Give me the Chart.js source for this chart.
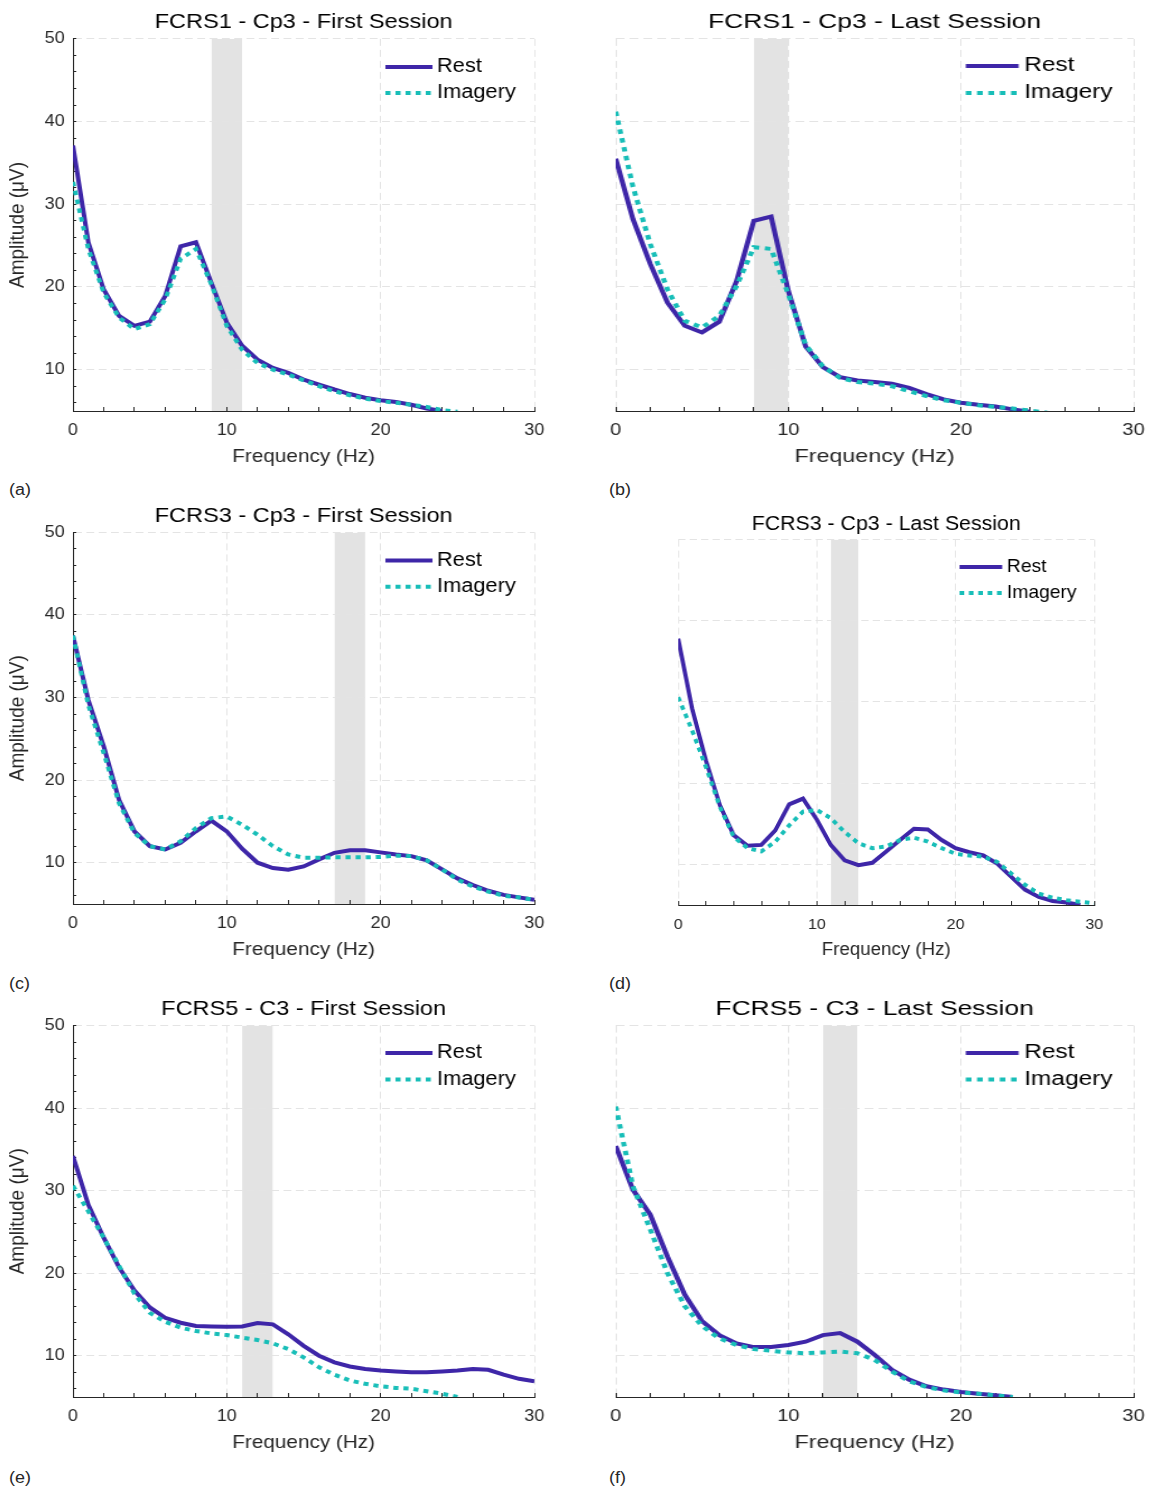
<!DOCTYPE html>
<html>
<head>
<meta charset="utf-8">
<script src="https://cdn.jsdelivr.net/npm/chart.js@4.4.1/dist/chart.umd.min.js"></script>
<style>
  html, body { margin: 0; padding: 0; background: #fff; }
  body { position: relative; width: 1149px; height: 1492px; overflow: hidden;
         font-family: 'Liberation Sans', Arial, Helvetica, sans-serif; }
  .panel { position: absolute; transform-origin: 0 0; }
  .tag { position: absolute; font-size: 16px; line-height: 16px; color: #262626;
         transform-origin: 0 0; transform: scaleX(1.12); }
</style>
</head>
<body>
<div class="tag" style="left:9px;top:482px">(a)</div>
<div class="tag" style="left:609px;top:482px">(b)</div>
<div class="tag" style="left:9px;top:976px">(c)</div>
<div class="tag" style="left:609px;top:976px">(d)</div>
<div class="tag" style="left:9px;top:1470px">(e)</div>
<div class="tag" style="left:609px;top:1470px">(f)</div>
<script>
// amplitude spectra, one value per 1 Hz bin starting at 0 Hz
const restA    = [37.1, 25.4, 19.7, 16.5, 15.3, 15.8, 18.9, 24.9, 25.4, 20.5, 15.7, 12.9, 11.2, 10.2, 9.6, 8.8, 8.2, 7.6, 7.05, 6.6, 6.3, 6.1, 5.75, 5.3, 5.0]
const imageryA = [32.7, 24.6, 19.3, 16.3, 14.9, 15.5, 18.5, 23.4, 24.6, 20.3, 15.3, 12.4, 10.8, 10.0, 9.4, 8.7, 8.0, 7.4, 6.9, 6.5, 6.2, 6.0, 5.75, 5.5, 5.1, 4.9]

const restB    = [35.5, 28.2, 22.8, 18.1, 15.3, 14.5, 15.8, 20.7, 28.0, 28.5, 19.5, 12.8, 10.3, 9.1, 8.7, 8.5, 8.3, 7.8, 7.05, 6.4, 6.0, 5.75, 5.55, 5.2, 4.9]
const imageryB = [41.2, 32.1, 25.2, 19.7, 15.9, 15.1, 16.5, 20.1, 24.8, 24.6, 19.1, 13.0, 10.4, 9.0, 8.5, 8.3, 8.0, 7.4, 6.8, 6.3, 6.0, 5.7, 5.5, 5.3, 5.05, 4.8]

const restC    = [37.5, 29.7, 24.1, 17.6, 13.8, 12.0, 11.6, 12.4, 13.8, 15.1, 13.8, 11.7, 10.0, 9.35, 9.15, 9.55, 10.4, 11.2, 11.5, 11.5, 11.25, 11.0, 10.8, 10.3, 9.2, 8.1, 7.3, 6.6, 6.1, 5.8, 5.5]
const imageryC = [37.5, 29.1, 23.3, 17.2, 13.6, 12.0, 11.6, 12.6, 14.2, 15.4, 15.6, 14.6, 13.4, 12.0, 11.0, 10.6, 10.6, 10.65, 10.65, 10.65, 10.7, 10.85, 10.8, 10.3, 9.2, 7.95, 7.1, 6.5, 6.0, 5.8, 5.5]

const restD    = [37.8, 29.2, 22.8, 17.3, 13.6, 12.3, 12.4, 14.2, 17.4, 18.1, 15.5, 12.4, 10.5, 9.9, 10.2, 11.6, 13.0, 14.4, 14.3, 13.0, 12.0, 11.5, 11.1, 10.1, 8.5, 6.9, 6.0, 5.5, 5.3, 5.0]
const imageryD = [30.6, 26.5, 22.0, 17.1, 13.4, 12.0, 11.6, 12.8, 14.8, 16.5, 16.7, 15.7, 14.0, 12.6, 12.0, 12.2, 13.0, 13.3, 12.8, 12.0, 11.3, 11.1, 10.95, 10.3, 8.9, 7.5, 6.4, 5.9, 5.6, 5.4, 5.2]

const restE    = [34.2, 28.3, 24.3, 20.7, 17.9, 15.85, 14.6, 14.0, 13.6, 13.55, 13.5, 13.55, 13.95, 13.8, 12.6, 11.2, 10.0, 9.2, 8.7, 8.4, 8.2, 8.1, 8.0, 8.0, 8.1, 8.2, 8.4, 8.3, 7.7, 7.2, 6.9]
const imageryE = [30.6, 27.5, 24.3, 20.9, 17.5, 15.2, 14.1, 13.4, 13.0, 12.7, 12.5, 12.2, 11.9, 11.5, 10.8, 9.8, 8.6, 7.7, 7.0, 6.6, 6.3, 6.1, 6.0, 5.7, 5.4, 5.0]

const restF    = [35.4, 30.1, 27.1, 22.0, 17.4, 14.2, 12.5, 11.5, 11.05, 11.05, 11.3, 11.7, 12.5, 12.75, 11.7, 10.1, 8.3, 7.1, 6.3, 5.9, 5.6, 5.4, 5.2, 5.0]
const imageryF = [40.2, 30.5, 25.3, 20.0, 16.0, 13.6, 12.1, 11.3, 10.8, 10.6, 10.4, 10.3, 10.4, 10.5, 10.3, 9.5, 8.1, 6.9, 6.2, 5.8, 5.55, 5.4, 5.2, 5.0]

// shaded frequency bands [from, to] in Hz
const bandA = [9, 11]
const bandB = [8, 10]
const bandC = [17, 19]
const bandD = [11, 13]
const bandE = [11, 13]
const bandF = [12, 14]

// axis ticks (labels only on multiples of 10)
const xTickValues = [0, 2, 4, 6, 8, 10, 12, 14, 16, 18, 20, 22, 24, 26, 28, 30]
const yTickValues = [6, 8, 10, 12, 14, 16, 18, 20, 22, 24, 26, 28, 30, 32, 34, 36, 38, 40, 42, 44, 46, 48, 50]
const xRange = [0, 30]
const yRange = [5, 50]

const restColor = "rgb(62, 38, 168)"
const imageryColor = "rgb(24, 190, 184)"
const bandColor = "#e3e3e3"
const gridColor = "#e4e4e4"
const axisColor = "#262626"

Chart.defaults.font.family = "'Liberation Sans', Arial, Helvetica, sans-serif"
Chart.defaults.color = axisColor

// legend drawn inside the plot, top right, like the MATLAB one
const cornerLegend = {
  id: "cornerLegend",
  afterDatasetsDraw(chart, args, opts) {
    const { ctx, chartArea } = chart
    const x0 = chartArea.right - opts.right
    let row = 0
    ctx.save()
    chart.data.datasets.forEach(ds => {
      if (!ds.label) return
      const y = chartArea.top + opts.rows[row++]
      ctx.lineWidth = ds.borderWidth
      ctx.strokeStyle = ds.borderColor
      ctx.lineCap = "butt"
      ctx.setLineDash(ds.borderDash || [])
      ctx.beginPath()
      ctx.moveTo(x0, y)
      ctx.lineTo(x0 + opts.len, y)
      ctx.stroke()
      ctx.setLineDash([])
      ctx.fillStyle = "#000"
      ctx.font = opts.size + "px " + Chart.defaults.font.family
      ctx.textBaseline = "middle"
      ctx.textAlign = "left"
      ctx.fillText(ds.label, x0 + opts.len + opts.gap, y)
    })
    ctx.restore()
  }
}

const bigFonts = { title: 21, tick: 16, xTitle: 18.5, yTitle: 19, legend: 19.5, tickPad: 14, xTitlePad: 1.1 }
const smallFonts = { title: 20.5, tick: 15.5, xTitle: 18, yTitle: 19, legend: 18.5, tickPad: 14.4, xTitlePad: 2.6 }

// box = plot area on the page [left, top, right, bottom]; stretch = horizontal scaling of the panel
const panels = [
  { title: "FCRS1 - Cp3 - First Session", rest: restA, imagery: imageryA, band: bandA,
    box: [73.3, 39, 535, 410.7], stretch: 1.12, yAxis: true, fonts: bigFonts, titleGap: 3.7,
    legend: { right: 133, rows: [28, 54], len: 42, gap: 4 } },
  { title: "FCRS1 - Cp3 - Last Session", rest: restB, imagery: imageryB, band: bandB,
    box: [615.7, 39, 1133.7, 410.7], stretch: 1.257, yAxis: false, fonts: bigFonts, titleGap: 3.7,
    legend: { right: 133.5, rows: [27, 54], len: 42, gap: 4.4 } },
  { title: "FCRS3 - Cp3 - First Session", rest: restC, imagery: imageryC, band: bandC,
    box: [73.3, 532.3, 535, 904.3], stretch: 1.12, yAxis: true, fonts: bigFonts, titleGap: 3.2,
    legend: { right: 133, rows: [28, 54.4], len: 42, gap: 4 } },
  { title: "FCRS3 - Cp3 - Last Session", rest: restD, imagery: imageryD, band: bandD,
    box: [678, 539.3, 1094, 905], stretch: 1.04, yAxis: false, fonts: smallFonts, titleGap: 3,
    legend: { right: 129.5, rows: [27.4, 53.4], len: 41, gap: 4.6 } },
  { title: "FCRS5 - C3 - First Session", rest: restE, imagery: imageryE, band: bandE,
    box: [73.3, 1026, 535, 1397.7], stretch: 1.12, yAxis: true, fonts: bigFonts, titleGap: 3.4,
    legend: { right: 133, rows: [27.3, 54], len: 42, gap: 4 } },
  { title: "FCRS5 - C3 - Last Session", rest: restF, imagery: imageryF, band: bandF,
    box: [615.5, 1026, 1133.6, 1397.3], stretch: 1.257, yAxis: false, fonts: bigFonts, titleGap: 3.4,
    legend: { right: 133.5, rows: [27.3, 54], len: 42, gap: 4.4 } }
]

const toPoints = values => values.map((y, i) => ({ x: i, y: y }))

function makePanel(p) {
  const f = p.fonts
  const [L, T, R, B] = p.box
  const plotW = (R - L) / p.stretch
  const plotH = B - T
  const yWidth = p.yAxis ? 62 : 26
  const xHeight = 58
  const pad = { left: 4, right: 30, top: 0, bottom: 4 }
  const titleH = f.title * 1.2 + p.titleGap

  const wrap = document.createElement("div")
  wrap.className = "panel"
  wrap.style.transform = "scaleX(" + p.stretch + ")"
  const canvas = document.createElement("canvas")
  canvas.width = Math.round(pad.left + yWidth + plotW + pad.right)
  canvas.height = Math.round(titleH + plotH + xHeight + pad.bottom)
  wrap.appendChild(canvas)
  document.body.appendChild(wrap)

  const chart = new Chart(canvas, {
    type: "line",
    data: {
      datasets: [
        {
          label: "Rest",
          data: toPoints(p.rest),
          borderColor: restColor,
          borderWidth: 4,
          borderCapStyle: "butt",
          pointRadius: 0,
          tension: 0,
          fill: false,
          order: 2
        },
        {
          label: "Imagery",
          data: toPoints(p.imagery),
          borderColor: imageryColor,
          borderWidth: 4,
          borderDash: [4.5, 4.5],
          borderCapStyle: "butt",
          pointRadius: 0,
          tension: 0,
          fill: false,
          order: 1
        },
        {
          data: p.band.map(x => ({ x: x, y: yRange[1] })),
          borderColor: "transparent",
          borderWidth: 0,
          backgroundColor: bandColor,
          pointRadius: 0,
          fill: "start",
          order: 3
        }
      ]
    },
    options: {
      responsive: false,
      maintainAspectRatio: false,
      animation: false,
      devicePixelRatio: 1,
      events: [],
      layout: { padding: pad },
      plugins: {
        legend: { display: false },
        tooltip: { enabled: false },
        filler: { drawTime: "beforeDraw" },
        title: {
          display: true,
          fullSize: false,
          text: p.title,
          color: "#000",
          font: { size: f.title, weight: "normal" },
          padding: { top: 0, bottom: p.titleGap }
        },
        cornerLegend: Object.assign({ size: f.legend }, p.legend)
      },
      scales: {
        x: {
          type: "linear",
          min: xRange[0],
          max: xRange[1],
          afterBuildTicks: s => { s.ticks = xTickValues.map(v => ({ value: v })) },
          afterFit: s => { s.height = xHeight },
          ticks: {
            callback: v => (v % 10 === 0 ? v : ""),
            autoSkip: false,
            maxRotation: 0,
            padding: f.tickPad,
            color: axisColor,
            font: { size: f.tick }
          },
          grid: {
            color: c => (c.tick && c.tick.value % 10 === 0 ? gridColor : "transparent"),
            lineWidth: 1,
            drawTicks: true,
            tickLength: -4,
            tickColor: axisColor
          },
          border: { display: true, color: axisColor, width: 1, dash: [7, 4] },
          title: {
            display: true,
            text: "Frequency (Hz)",
            color: axisColor,
            font: { size: f.xTitle },
            padding: { top: 0, bottom: f.xTitlePad }
          }
        },
        y: {
          type: "linear",
          min: yRange[0],
          max: yRange[1],
          afterBuildTicks: s => { s.ticks = yTickValues.map(v => ({ value: v })) },
          afterFit: s => { s.width = yWidth },
          ticks: {
            display: p.yAxis,
            callback: v => (v % 10 === 0 ? v : ""),
            autoSkip: false,
            padding: 10.4,
            color: axisColor,
            font: { size: f.tick }
          },
          grid: {
            color: c => (c.tick && c.tick.value % 10 === 0 ? gridColor : "transparent"),
            lineWidth: 1,
            drawTicks: p.yAxis,
            tickLength: -3,
            tickColor: axisColor
          },
          border: { display: p.yAxis, color: axisColor, width: 1, dash: [7, 4] },
          title: {
            display: p.yAxis,
            text: "Amplitude (μV)",
            color: axisColor,
            font: { size: f.yTitle },
            padding: { top: 1.7, bottom: 0 }
          }
        }
      }
    },
    plugins: [cornerLegend]
  })

  // make the plot area exactly the wanted size, then put it where the reference has it
  let area = chart.chartArea
  const dw = plotW - (area.right - area.left)
  const dh = plotH - (area.bottom - area.top)
  if (Math.abs(dw) > 0.5 || Math.abs(dh) > 0.5) {
    chart.resize(Math.round(canvas.width + dw), Math.round(canvas.height + dh))
    area = chart.chartArea
  }
  wrap.style.left = (L - area.left * p.stretch) + "px"
  wrap.style.top = (T - area.top) + "px"
  return chart
}

panels.forEach(makePanel)
</script>
</body>
</html>
